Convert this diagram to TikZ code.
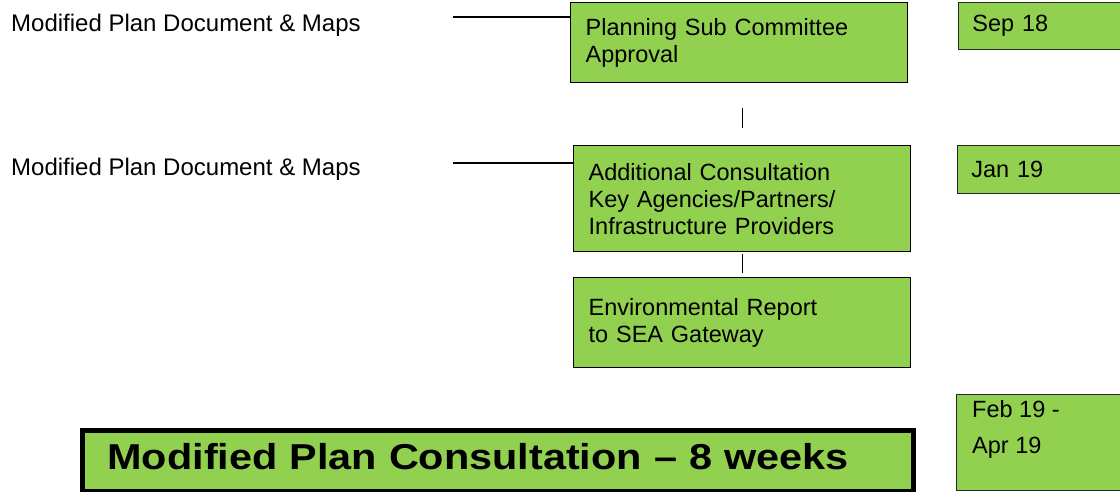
\documentclass[tikz,border=0pt]{standalone}
\usepackage{fontspec}
\setmainfont{Liberation Sans}
\newfontfamily\titlefont[FakeStretch=1.15]{Liberation Sans}
\definecolor{boxgreen}{RGB}{146,208,80}
\begin{document}
\begin{tikzpicture}[x=1pt,y=-1pt,
  flowbox/.style={draw=black, line width=1.3pt, fill=boxgreen, anchor=north west,
    minimum width=337pt, text width=307pt, inner xsep=15pt, inner ysep=0pt, align=left,
    font=\fontsize{23.5}{27}\selectfont},
  datebox/.style={draw=black!85, line width=0.8pt, fill=boxgreen, anchor=north west,
    minimum width=172pt, text width=144pt, inner xsep=14pt, inner ysep=0pt, align=left,
    font=\fontsize{23.5}{27}\selectfont},
  sidelabel/.style={anchor=base west, inner sep=0pt, font=\fontsize{24}{28}\selectfont},
  conn/.style={draw=black, line width=1.3pt}]
\useasboundingbox (0,0) rectangle (1120,492);
\clip (0,0) rectangle (1120,492);

% left labels
\node[sidelabel] (m1) at (11,32) {Modified Plan Document \& Maps};
\node[sidelabel] (m2) at (11,176) {Modified Plan Document \& Maps};

% flow boxes
\node[flowbox, minimum height=80pt] (b1) at (570,2) {Planning Sub Committee\\Approval};
\node[flowbox, minimum height=106pt] (b2) at (573,145) {Additional Consultation\\Key Agencies/Partners/\\Infrastructure Providers};
\node[flowbox, minimum height=90pt] (b3) at (573,277) {Environmental Report\\to SEA Gateway};

% date boxes
\node[datebox, minimum height=47pt] (d1) at (958,2) {Sep 18};
\node[datebox, minimum height=48pt] (d2) at (957,145) {Jan 19};
\node[datebox, minimum height=96pt] (d3) at (956,394) {};
\node[anchor=base west, inner sep=0pt, font=\fontsize{23.5}{27}\selectfont] (d3a) at (972,417) {Feb 19 -};
\node[anchor=base west, inner sep=0pt, font=\fontsize{23.5}{27}\selectfont] (d3b) at (972,453) {Apr 19};

% title box
\node[draw=black, line width=5pt, fill=boxgreen, anchor=north west,
  minimum width=831pt, minimum height=61pt, text width=780pt, inner xsep=25.5pt,
  inner ysep=0pt, align=left, text depth=8pt,
  font=\titlefont\fontsize{36}{40}\selectfont\bfseries] (t) at (79.5,427.5)
  {Modified Plan Consultation – 8 weeks};

% connectors
\coordinate (l1) at (453,17);
\coordinate (l2) at (453,163);
\draw[conn] (l1) -- (l1 -| b1.west);
\draw[conn] (l2) -- (l2 -| b2.west);
\draw[conn, shorten <=25pt, shorten >=17pt] (b2.north |- b1.south) -- (b2.north);
\draw[conn, shorten <=2pt, shorten >=4pt] (b2.south) -- (b3.north);
\end{tikzpicture}
\end{document}
